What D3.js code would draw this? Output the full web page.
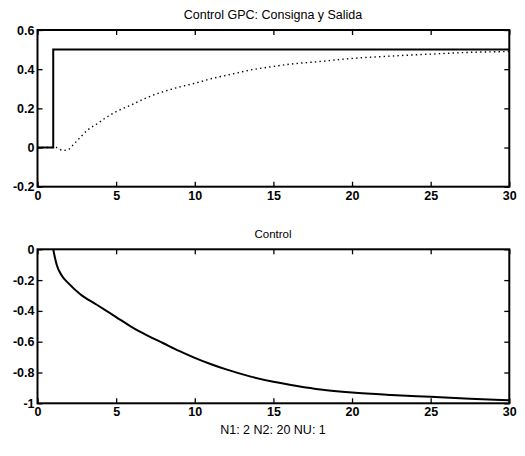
<!DOCTYPE html>
<html><head><meta charset="utf-8">
<script src="https://cdn.jsdelivr.net/npm/d3@7"></script>
<style>
body{margin:0;background:#fff;}
svg{display:block;font-family:"Liberation Sans",Arial,sans-serif;}
</style></head>
<body><svg id="c" width="525" height="456"></svg>
<script>
// ---- data ----
const title1 = "Control GPC: Consigna y Salida";
const title2 = "Control";
const xLabel2 = "N1: 2 N2: 20 NU: 1";
const xTicks = [0,5,10,15,20,25,30];
const yTicks1 = [-0.2,0,0.2,0.4,0.6];
const yTicks2 = [-1,-0.8,-0.6,-0.4,-0.2,0];

const refT = [0,1,1,30];
const refY = [0,0,0.5,0.5];

const outT = [0,1,1.22,1.6,1.96,2.28,2.7,3.2,3.77,4.4,5.05,5.9,6.96,8.0,9.07,10.1,10.98,12.26,13.5,15,16.1,17.8,20,22.5,25,27.55,30];
const outY = [0,0,0,-0.015,-0.01,0.015,0.05,0.09,0.12,0.155,0.185,0.215,0.255,0.285,0.31,0.33,0.35,0.373,0.395,0.414,0.426,0.438,0.455,0.467,0.477,0.486,0.49];

const ctlT = [1,1.1,1.22,1.54,1.96,2.7,3.77,5,6,7,8,9,10,11,12,13.5,15,16.5,18,20,22.5,25,27.5,30];
const ctlU = [0,-0.05,-0.10,-0.17,-0.22,-0.29,-0.36,-0.44,-0.505,-0.56,-0.61,-0.66,-0.705,-0.745,-0.78,-0.825,-0.86,-0.887,-0.91,-0.93,-0.946,-0.958,-0.97,-0.98];

// ---- drawing ----
const svg = d3.select("#c");
const L = 37.5, R = 509.3;
const x = d3.scaleLinear().domain([0,30]).range([L,R]);

function panel(top, bottom, yDomain, yTicks, yFmt){
  const y = d3.scaleLinear().domain(yDomain).range([bottom, top]);
  const g = svg.append("g");
  const tl = 5;
  g.append("g").attr("transform",`translate(0,${bottom})`)
    .call(d3.axisBottom(x).tickValues(xTicks).tickSize(-tl).tickPadding(4).tickFormat(d3.format("d")))
    .call(a=>a.select(".domain").remove());
  g.append("g").attr("transform",`translate(0,${top})`)
    .call(d3.axisTop(x).tickValues(xTicks).tickSize(-tl).tickFormat(""))
    .call(a=>a.select(".domain").remove());
  g.append("g").attr("transform",`translate(${L},0)`)
    .call(d3.axisLeft(y).tickValues(yTicks).tickSize(-tl).tickPadding(3).tickFormat(yFmt))
    .call(a=>a.select(".domain").remove());
  g.append("g").attr("transform",`translate(${R},0)`)
    .call(d3.axisRight(y).tickValues(yTicks).tickSize(-tl).tickFormat(""))
    .call(a=>a.select(".domain").remove());
  g.selectAll(".tick line").attr("stroke","#000").attr("stroke-width",1.3);
  g.selectAll(".tick text").attr("fill","#000").attr("font-size",12.5).attr("font-weight","bold")
    .attr("font-family","'Liberation Sans',Arial,sans-serif");
  g.append("rect").attr("x",L).attr("y",top).attr("width",R-L).attr("height",bottom-top)
    .attr("fill","none").attr("stroke","#000").attr("stroke-width",2);
  return {y,g};
}

const yf = d => String(Math.round(d*10)/10);

// top
const p1 = panel(30, 186.7, [-0.2,0.6], yTicks1, yf);
const refData = refT.map((t,i)=>[t,refY[i]]);
p1.g.append("path").datum(refData)
  .attr("d", d3.line().x(d=>x(d[0])).y(d=>p1.y(d[1])))
  .attr("fill","none").attr("stroke","#000").attr("stroke-width",2);
const outData = outT.map((t,i)=>[t,outY[i]]);
p1.g.append("path").datum(outData)
  .attr("d", d3.line().x(d=>x(d[0])).y(d=>p1.y(d[1])).curve(d3.curveMonotoneX))
  .attr("fill","none").attr("stroke","#000").attr("stroke-width",1.4)
  .attr("stroke-dasharray","1.4,3.2");
svg.append("text").attr("x",273).attr("y",19).attr("text-anchor","middle")
  .attr("font-size",12.5).text(title1);

// bottom
const p2 = panel(249.3, 403.3, [-1,0], yTicks2, yf);
const ctlData = ctlT.map((t,i)=>[t,ctlU[i]]);
p2.g.append("path").datum(ctlData)
  .attr("d", d3.line().x(d=>x(d[0])).y(d=>p2.y(d[1])).curve(d3.curveMonotoneX))
  .attr("fill","none").attr("stroke","#000").attr("stroke-width",2);
svg.append("text").attr("x",273).attr("y",238).attr("text-anchor","middle")
  .attr("font-size",11.5).text(title2);
svg.append("text").attr("x",273).attr("y",434).attr("text-anchor","middle")
  .attr("font-size",12.5).text(xLabel2);
</script></body></html>
